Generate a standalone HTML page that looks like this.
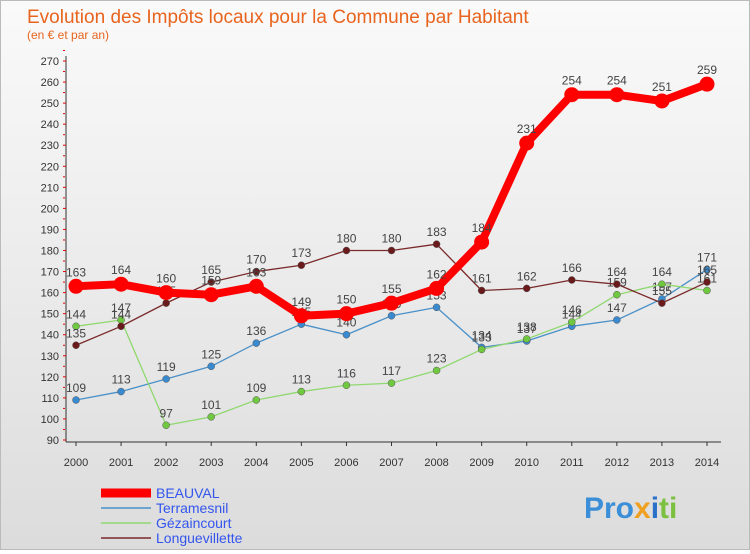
<!DOCTYPE html>
<html><head><meta charset="utf-8"><style>
body{margin:0;width:750px;height:550px;overflow:hidden;font-family:"Liberation Sans","DejaVu Sans",sans-serif}
#wrap{position:relative;width:748px;height:548px;border:1px solid #bbb;background:linear-gradient(#fafafa,#dcdcdc)}
</style></head><body>
<div id="wrap">
<svg id="chart" width="748" height="548" xmlns="http://www.w3.org/2000/svg">
<text x="26" y="22" font-size="19" fill="#e8641e">Evolution des Impôts locaux pour la Commune par Habitant</text>
<text x="26" y="38" font-size="12" fill="#e8641e">(en € et par an)</text>
<g id="axes"></g><g id="series"></g><g id="legend"></g>
<text x="583" y="517" font-size="30" font-weight="bold" fill="#3a8fd8">Pro<tspan fill="#f0a020">x</tspan><tspan fill="#2a6fc8">i</tspan><tspan fill="#7cc040">ti</tspan></text>
</svg></div>
<script>
const years=[2000,2001,2002,2003,2004,2005,2006,2007,2008,2009,2010,2011,2012,2013,2014];
const beauval=[163,164,160,159,163,149,150,155,162,184,231,254,254,251,259];
const terramesnil=[109,113,119,125,136,145,140,149,153,134,137,144,147,157,171];
const gezaincourt=[144,147,97,101,109,113,116,117,123,133,138,146,159,164,161];
const longuevillette=[135,144,155,165,170,173,180,180,183,161,162,166,164,155,165];
const yTicks=[90,100,110,120,130,140,150,160,170,180,190,200,210,220,230,240,250,260,270];
const NS="http://www.w3.org/2000/svg";
function X(i){return 75+i*(706-75)/(years.length-1);}
function Y(v){return 439-(v-90)*(439-60)/180;}
function mk(t,a,p){const e=document.createElementNS(NS,t);for(const k in a)e.setAttribute(k,a[k]);p.appendChild(e);return e;}
const axes=document.getElementById('axes');
let ax=mk('line',{x1:65,y1:55,x2:65,y2:441,stroke:'#333'},axes);


let bx=mk('line',{x1:65,y1:441,x2:720,y2:441,stroke:'#333'},axes);


yTicks.forEach(v=>{
 const t=mk('text',{x:58,y:Y(v)+4,'font-size':11,'text-anchor':'end',fill:'#333'},axes);t.textContent=v;
 
 
 mk('line',{x1:62,y1:Y(v),x2:65,y2:Y(v),stroke:'#e00'},axes);
 mk('line',{x1:62,y1:Y(v+5),x2:64,y2:Y(v+5),stroke:'#e00'},axes);
});
years.forEach((y,i)=>{
 const t=mk('text',{x:X(i),y:465,'font-size':11,'text-anchor':'middle',fill:'#333'},axes);t.textContent=y;
 
 
 mk('line',{x1:X(i),y1:441,x2:X(i),y2:445,stroke:'#333'},axes);
});
const ser=document.getElementById('series');
const defs=[
 {n:'terramesnil',d:terramesnil,c:'#4a90c8',w:1.3,r:3.5,f:'#3a8ad0'},
 {n:'gezaincourt',d:gezaincourt,c:'#90d870',w:1.3,r:3.5,f:'#70c840'},
 {n:'longuevillette',d:longuevillette,c:'#7a2a2a',w:1.3,r:3.5,f:'#6a1a1a'},
 {n:'beauval',d:beauval,c:'#ff0000',w:8,r:7.5,f:'#ff0000'}];
defs.forEach(s=>{
 const g=mk('g',{},ser);
 
 
 const pl=mk('polyline',{points:s.d.map((v,i)=>X(i)+','+Y(v)).join(' '),fill:'none',stroke:s.c,'stroke-width':s.w,'stroke-linejoin':'round'},g);
 
 
 s.d.forEach((v,i)=>{
  const c=mk('circle',{cx:X(i),cy:Y(v),r:s.r,fill:s.f,stroke:s.w>2?'none':'#555','stroke-width':0.5},g);
  
  
  const t=mk('text',{x:X(i),y:Y(v)-(s.w>2?10:8),'font-size':12,'text-anchor':'middle',fill:'#444'},g);t.textContent=v;
  
  
 });
});
const lg=document.getElementById('legend');
const legNames=['BEAUVAL','Terramesnil','Gézaincourt','Longuevillette'];
const legCols=['#ff0000','#4a90c8','#90d870','#7a2a2a'];
const legW=[9,1.5,1.5,1.5];
legNames.forEach((n,i)=>{
 const y=492+i*15;
 const l=mk('line',{x1:100,y1:y,x2:150,y2:y,stroke:legCols[i],'stroke-width':legW[i]},lg);
 
 
 const t=mk('text',{x:155,y:y+5,'font-size':14,fill:'#3355ee'},lg);t.textContent=n;
 
 
});
</script>
</body></html>
